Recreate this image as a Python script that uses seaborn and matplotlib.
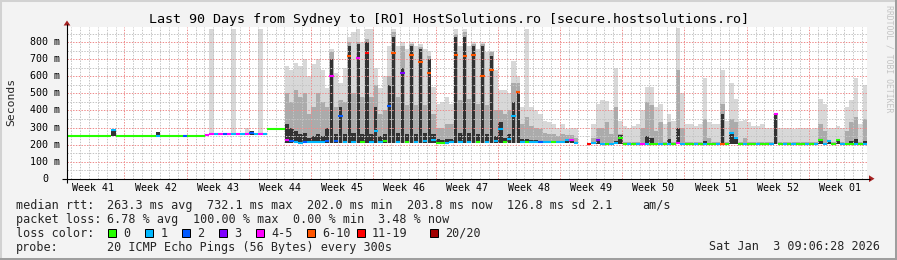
import numpy as np
import pandas as pd
import matplotlib
matplotlib.use("Agg")
import matplotlib.pyplot as plt
import seaborn as sns
from matplotlib.lines import Line2D
from matplotlib.patches import Rectangle, Polygon

# ---------------- data (half-day bins, ms) ----------------
nan = np.nan
BIN_DAYS = 0.5
median_ms = [
    250, 250, 250, 250, 250, 250, 250, 250, 250, 250,
    285, 250, 250, 250, 250, 250, 250, 250, 250, 250,
    250, 250, 250, 250, 250, 250, 250, 250, 250, 250,
    250, 255, 262, 262, 262, 262, 262, 262, 262, 262,
    262, 270, 262, 262, 262, 293, 293, 293, 293, 228,
    222, 215, 212, 218, 213, 215, 216, 214, 222, 600,
    220, 365, 218, 720, 215, 710, 218, 735, 216, 280,
    218, 220, 424, 735, 218, 620, 218, 725, 216, 684,
    220, 620, 225, 210, 208, 212, 215, 725, 215, 720,
    218, 725, 216, 600, 218, 635, 220, 290, 215, 230,
    365, 510, 218, 215, 216, 214, 216, 214, 215, 216,
    214, 218, 225, 228, 212, nan, nan, 204, 210, 225,
    206, 204, 206, 210, 240, 204, 204, 204, 205, 204,
    206, 204, 204, 204, 204, 206, 204, 210, 204, 204,
    204, 204, 204, 204, 204, 204, 204, 206, 204, 270,
    240, 205, 204, 204, 204, 204, 204, 204, 204, 380,
    204, 204, 204, 204, 204, 204, 204, 204, 204, 225,
    204, 222, 204, 228, 204, 204, 204, 204, 204, 204,
]
loss_idx = [
    0, 0, 0, 0, 0, 0, 0, 0, 0, 0,
    1, 0, 0, 0, 0, 0, 0, 0, 0, 0,
    1, 0, 0, 0, 0, 0, 2, 0, 0, 0,
    0, 4, 4, 1, 4, 2, 4, 1, 4, 1,
    4, 2, 1, 4, 1, 0, 0, 0, 0, 4,
    2, 1, 1, 2, 1, 1, 1, 1, 2, 4,
    2, 2, 1, 5, 1, 4, 0, 6, 1, 1,
    1, 0, 2, 5, 1, 3, 0, 5, 1, 5,
    1, 5, 1, 0, 0, 1, 1, 5, 1, 5,
    1, 5, 0, 5, 1, 5, 1, 1, 0, 1,
    1, 5, 1, 0, 1, 1, 2, 1, 1, 0,
    1, 1, 1, 4, 1, 0, 0, 6, 1, 3,
    1, 0, 1, 1, 0, 0, 1, 0, 1, 4,
    1, 0, 0, 1, 0, 1, 0, 4, 1, 0,
    0, 1, 0, 1, 0, 0, 1, 5, 0, 1,
    1, 0, 1, 0, 0, 1, 0, 0, 1, 4,
    0, 1, 0, 1, 0, 0, 1, 0, 1, 0,
    1, 1, 0, 0, 1, 0, 0, 1, 0, 1,
]
smoke_min = (
    [250] * 32 + [258] * 13 + [293] * 4 + [210]
    + [208] * 65 + [nan, nan] + [202] * 63
)
smoke_dark = [
    250, 250, 250, 250, 250, 250, 250, 250, 250, 250,
    288, 250, 250, 250, 250, 250, 250, 250, 250, 250,
    275, 250, 250, 250, 250, 250, 250, 250, 250, 250,
    250, 250, 258, 258, 258, 258, 258, 258, 258, 258,
    258, 278, 258, 258, 258, 293, 293, 293, 293, 320,
    300, 280, 260, 270, 240, 250, 260, 250, 300, 700,
    260, 420, 260, 780, 270, 790, 260, 800, 260, 420,
    250, 260, 550, 830, 270, 650, 260, 780, 260, 760,
    270, 700, 260, 230, 225, 230, 235, 830, 270, 830,
    270, 780, 260, 780, 260, 720, 250, 330, 240, 260,
    450, 510, 230, 230, 225, 225, 222, 222, 220, 220,
    220, 222, 235, 235, 215, nan, nan, 204, 215, 230,
    210, 210, 210, 220, 255, 205, 205, 205, 205, 210,
    250, 240, 205, 210, 205, 230, 205, 300, 205, 205,
    205, 205, 205, 220, 205, 205, 205, 380, 205, 275,
    245, 205, 205, 205, 205, 205, 205, 205, 205, 380,
    205, 205, 205, 205, 205, 205, 205, 205, 205, 232,
    205, 225, 205, 230, 205, 210, 220, 230, 205, 220,
]
smoke_mid = [
    250, 250, 250, 250, 250, 250, 250, 250, 250, 250,
    288, 250, 250, 250, 250, 250, 250, 250, 250, 250,
    275, 250, 250, 250, 250, 250, 250, 250, 250, 250,
    250, 250, 258, 258, 258, 258, 258, 258, 258, 258,
    258, 278, 258, 258, 258, 293, 293, 293, 293, 500,
    450, 520, 480, 500, 380, 420, 500, 450, 420, 740,
    420, 460, 450, 800, 500, 800, 480, 820, 480, 550,
    380, 400, 600, 860, 480, 780, 430, 790, 430, 770,
    430, 720, 380, 300, 300, 320, 320, 850, 460, 860,
    470, 790, 440, 790, 430, 740, 400, 400, 380, 400,
    560, 560, 320, 360, 310, 300, 290, 270, 260, 260,
    250, 260, 255, 255, 240, nan, nan, 204, 240, 300,
    300, 330, 260, 420, 260, 215, 215, 215, 215, 300,
    450, 430, 280, 330, 215, 330, 215, 640, 300, 215,
    215, 215, 215, 350, 240, 215, 215, 435, 215, 350,
    330, 215, 240, 215, 215, 215, 215, 215, 215, 380,
    215, 215, 215, 215, 215, 215, 215, 215, 215, 320,
    280, 215, 215, 215, 215, 280, 330, 360, 215, 350,
]
smoke_max = [
    250, 250, 250, 250, 250, 250, 250, 250, 250, 250,
    290, 250, 250, 250, 250, 250, 250, 250, 250, 250,
    275, 250, 250, 250, 250, 250, 250, 250, 250, 250,
    250, 250, 880, 258, 258, 258, 258, 880, 258, 258,
    300, 278, 258, 880, 258, 293, 293, 293, 293, 660,
    640, 680, 660, 700, 600, 670, 700, 640, 530, 760,
    620, 560, 650, 830, 860, 880, 800, 880, 880, 650,
    530, 600, 780, 880, 780, 800, 760, 800, 780, 790,
    760, 750, 540, 440, 450, 480, 440, 880, 780, 880,
    780, 800, 760, 800, 740, 750, 640, 520, 520, 500,
    690, 600, 420, 880, 420, 400, 380, 340, 330, 320,
    300, 320, 290, 300, 300, nan, nan, 204, 320, 440,
    460, 455, 400, 650, 340, 310, 300, 310, 320, 400,
    540, 540, 420, 440, 320, 380, 340, 885, 500, 320,
    320, 310, 320, 590, 330, 320, 320, 640, 340, 560,
    470, 340, 345, 330, 310, 310, 320, 300, 300, 385,
    300, 295, 300, 290, 300, 295, 300, 290, 300, 470,
    440, 300, 300, 310, 300, 420, 460, 590, 320, 550,
]

y_ticks_ms = [0, 100, 200, 300, 400, 500, 600, 700, 800]
y_tick_labels = ["0", "100 m", "200 m", "300 m", "400 m", "500 m", "600 m", "700 m", "800 m"]
week_labels = ["Week 41", "Week 42", "Week 43", "Week 44", "Week 45", "Week 46", "Week 47",
               "Week 48", "Week 49", "Week 50", "Week 51", "Week 52", "Week 01"]
first_week_start_day = -0.54   # week 41 starts just before the left edge

loss_names = ["0", "1", "2", "3", "4-5", "6-10", "11-19", "20/20"]
loss_colors = ["#26ff00", "#00b8ff", "#0059ff", "#7e00ff", "#ff00ff", "#ff5500", "#ff0000", "#a10000"]

title = "Last 90 Days from Sydney to [RO] HostSolutions.ro [secure.hostsolutions.ro]"
rtt_stats = ["median rtt:", "263.3 ms avg", "732.1 ms max", "202.0 ms min", "203.8 ms now",
             "126.8 ms sd", "2.1", "am/s"]
loss_stats = ["packet loss:", "6.78 % avg", "100.00 % max", "0.00 % min", "3.48 % now"]
probe_text = ["probe:", "20 ICMP Echo Pings (56 Bytes) every 300s"]
stamp = "Sat Jan  3 09:06:28 2026"

# ---------------- figure ----------------
W, H = 897, 260
sns.set_style("white")
plt.rcParams["font.family"] = ["DejaVu Sans Mono", "DejaVu Sans"]

fig = plt.figure(figsize=(W / 100, H / 100), dpi=100)
fig.patch.set_facecolor("#f3f3f3")

def fx(x):
    return x / W

def fy(y):
    return 1 - y / H

ax_left, ax_right, ax_top, ax_bot = 67, 867, 26.7, 178.7
ax = fig.add_axes([fx(ax_left), fy(ax_bot), (ax_right - ax_left) / W, (ax_bot - ax_top) / H])
ax.set_facecolor("white")

n = len(median_ms)
t0 = np.arange(n) * BIN_DAYS
lo = np.array(smoke_min, float)

def smoke_layer(top, col, core=False):
    top = np.array(top, float)
    h = top - lo
    ok = ~np.isnan(h) & (h > 0)
    width = np.full(n, BIN_DAYS)
    if core:
        width = np.where(h > 150, BIN_DAYS * 0.7, BIN_DAYS)
    left = t0 + (BIN_DAYS - width) / 2
    ax.bar(left[ok], h[ok], bottom=lo[ok], width=width[ok], align="edge",
           color=col, linewidth=0, zorder=1)

smoke_layer(smoke_max, "#d8d8d8")
smoke_layer(smoke_mid, "#ababab")
smoke_layer(smoke_dark, "#323232", core=True)

# median line, coloured by loss
rows = []
for i, (m, l) in enumerate(zip(median_ms, loss_idx)):
    if np.isnan(m):
        continue
    rows.append((t0[i], m, l, i))
    rows.append((t0[i] + BIN_DAYS, m, l, i))
df = pd.DataFrame(rows, columns=["t", "med", "loss", "seg"])
pal = {k: c for k, c in enumerate(loss_colors)}
sns.lineplot(data=df, x="t", y="med", hue="loss", units="seg", estimator=None,
             palette=pal, legend=False, linewidth=1.5, ax=ax, zorder=4)
for line in ax.lines:
    line.set_solid_capstyle("butt")

ax.set_xlim(0, n * BIN_DAYS)
ax.set_ylim(0, 891)
ax.set_xlabel("")
ax.set_ylabel("")

major_x = [first_week_start_day + 7 * k for k in range(1, 13)]
minor_x = [first_week_start_day + d for d in range(1, 91)]
ax.set_xticks(major_x)
ax.set_xticks(minor_x, minor=True)
ax.set_yticks(y_ticks_ms)
ax.set_yticks([v + 50 for v in y_ticks_ms], minor=True)
ax.tick_params(which="both", length=0, labelbottom=False, labelleft=False)
ax.grid(which="minor", color="#c4c4c4", linestyle=(0, (1.4, 1.4)), linewidth=0.72, zorder=2)
ax.grid(which="major", color="#ee8c8c", linestyle=(0, (1.4, 1.4)), linewidth=0.72, zorder=2)
ax.set_axisbelow(False)
for s in ax.spines.values():
    s.set_visible(False)

# y tick labels
for v, lab in zip(y_ticks_ms, y_tick_labels):
    xend = 48 if lab == "0" else 60
    ax.text(-(ax_left - xend) / (ax_right - ax_left), v, lab, transform=ax.get_yaxis_transform(),
            ha="right", va="center", fontsize=7.2, color="black")

# week labels centred in each week
for k, lab in enumerate(week_labels):
    c = first_week_start_day + 7 * k + 3.5
    ax.text(c, -(190.6 - ax_bot) / (ax_bot - ax_top), lab, transform=ax.get_xaxis_transform(),
            ha="center", va="baseline", fontsize=7.2, color="black")

# axes lines and arrows
def fline(x0, y0, x1, y1, color, lw):
    fig.add_artist(Line2D([fx(x0), fx(x1)], [fy(y0), fy(y1)], transform=fig.transFigure,
                          color=color, linewidth=lw, solid_capstyle="butt"))

fline(62, 178.7, 870, 178.7, "black", 0.8)
fline(67, 183, 67, 24, "black", 0.8)
fig.add_artist(Polygon([(fx(869), fy(175.3)), (fx(869), fy(182.1)), (fx(874.5), fy(178.7))],
                       closed=True, transform=fig.transFigure, color="#a52020", lw=0))
fig.add_artist(Polygon([(fx(63.6), fy(25.5)), (fx(70.4), fy(25.5)), (fx(67), fy(20.5))],
                       closed=True, transform=fig.transFigure, color="#a52020", lw=0))

# frame (3D look: light top/left, dark bottom/right)
fline(0, 1, 897, 1, "#d2d2d2", 1.45)
fline(1, 0, 1, 260, "#d2d2d2", 1.45)
fline(0, 259, 897, 259, "#9e9e9e", 1.45)
fline(896, 0, 896, 260, "#9e9e9e", 1.45)

# texts
fig.text(fx(448.5), fy(23.5), title, ha="center", va="baseline", fontsize=9.6, color="black")
fig.text(fx(10.8), fy(102), "Seconds", rotation=90, ha="center", va="center", fontsize=8.2)
fig.text(fx(888.5), fy(5), "RRDTOOL / TOBI OETIKER", rotation=270, ha="center", va="top",
         fontsize=5.9, color="#c4c4c4")

LF = 8.5
row_y = [208.7, 222.7, 236.7, 250.5]
for x, s in zip([16, 107, 207.3, 307.3, 407.3, 507.3, 590.7, 642.7], rtt_stats):
    fig.text(fx(x), fy(row_y[0]), s, ha="left", va="baseline", fontsize=LF)
for x, s in zip([16, 107, 193.3, 293.3, 378.3], loss_stats):
    fig.text(fx(x), fy(row_y[1]), s, ha="left", va="baseline", fontsize=LF)
fig.text(fx(16), fy(row_y[2]), "loss color:", ha="left", va="baseline", fontsize=LF)
for x, name, col in zip([107.7, 145.3, 181.9, 218.5, 256, 306.7, 356.7, 430], loss_names, loss_colors):
    fig.add_artist(Rectangle((fx(x), fy(236.5)), 8 / W, 8 / H, transform=fig.transFigure,
                             facecolor=col, edgecolor="black", linewidth=0.72))
    fig.text(fx(x + 15.3), fy(row_y[2]), name, ha="left", va="baseline", fontsize=LF)
fig.text(fx(16), fy(row_y[3]), probe_text[0], ha="left", va="baseline", fontsize=LF)
fig.text(fx(107), fy(row_y[3]), probe_text[1], ha="left", va="baseline", fontsize=LF)
fig.text(fx(880), fy(row_y[3]), stamp, ha="right", va="baseline", fontsize=LF)

fig.savefig("out.png", dpi=100, facecolor=fig.get_facecolor())
